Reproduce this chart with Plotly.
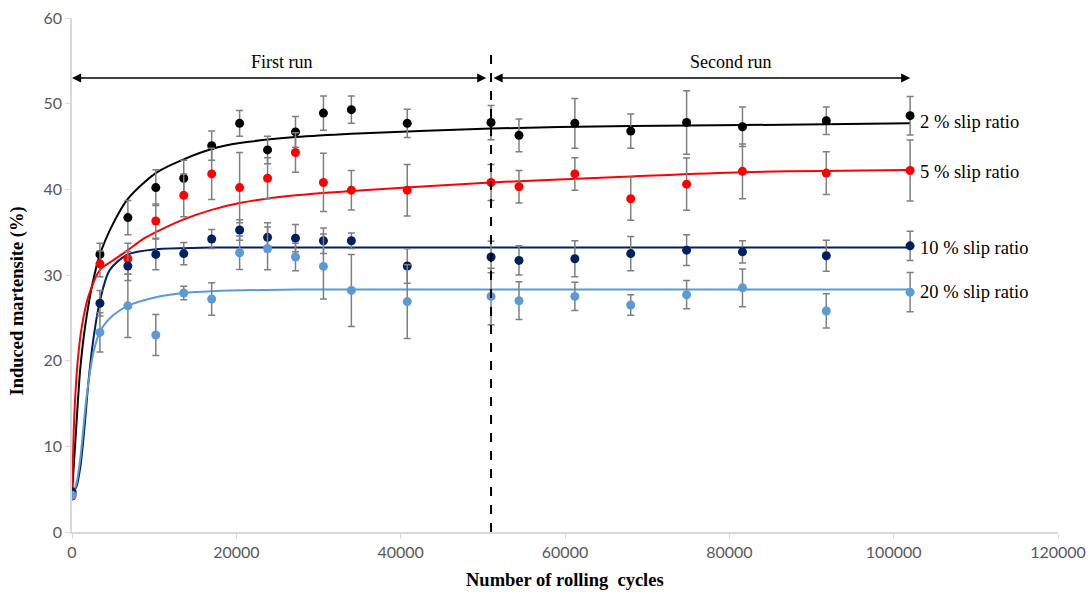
import plotly.graph_objects as go

cycles = [0, 3400, 6800, 10200, 13600, 17000, 20400, 23800, 27200, 30600, 34000,
          40800, 51000, 54400, 61200, 68000, 74800, 81600, 91800, 102000]

slip2 = [4.5, 32.4, 36.7, 40.2, 41.3, 45.1, 47.7, 44.6, 46.7, 48.9, 49.3,
         47.7, 47.8, 46.3, 47.7, 46.8, 47.8, 47.3, 48.0, 48.6]
slip2_err = [0.3, 1.3, 2.0, 2.1, 2.1, 1.7, 1.5, 1.6, 1.8, 2.0, 1.6,
             1.65, 2.0, 1.9, 2.9, 2.0, 3.7, 2.3, 1.6, 2.25]

slip5 = [4.2, 31.3, 31.9, 36.3, 39.3, 41.8, 40.2, 41.3, 44.3, 40.8, 39.9,
         39.9, 40.8, 40.3, 41.8, 38.9, 40.6, 42.1, 41.9, 42.2]
slip5_err = [0.3, 1.5, 1.8, 2.0, 2.5, 3.0, 4.1, 2.4, 2.3, 3.4, 2.3,
             3.0, 2.1, 1.9, 1.9, 2.5, 3.05, 3.2, 2.5, 3.55]

slip10 = [4.7, 26.7, 31.05, 32.4, 32.5, 34.2, 35.25, 34.4, 34.3, 34.0, 34.0,
          31.05, 32.1, 31.7, 31.9, 32.5, 32.9, 32.7, 32.25, 33.4]
slip10_err = [0.3, 1.5, 1.7, 1.8, 1.3, 1.1, 1.2, 1.7, 1.6, 1.5, 0.9,
              2.0, 1.85, 1.7, 2.1, 2.0, 1.8, 1.3, 1.8, 1.7]

slip20 = [4.3, 23.3, 26.4, 23.0, 27.9, 27.2, 32.6, 33.1, 32.1, 31.0, 28.2,
          26.9, 27.5, 27.0, 27.5, 26.5, 27.7, 28.5, 25.8, 28.0]
slip20_err = [0.3, 2.3, 3.7, 2.4, 0.8, 1.9, 1.95, 2.5, 1.6, 3.8, 4.2,
              4.3, 3.3, 2.2, 1.65, 1.2, 1.65, 2.2, 2.0, 2.3]

# ---- fitted trend curves ----
fit2_x = [0, 500, 1000, 1600, 2500, 3400, 5000, 6800, 10200, 13600, 17000, 20400,
          27200, 34000, 51000, 68000, 81600, 102000]
fit2_y = [4.5, 12.0, 19.0, 24.0, 29.0, 32.4, 36.0, 38.9, 41.9, 43.5, 44.7, 45.4,
          46.1, 46.5, 47.1, 47.4, 47.5, 47.7]

fit5_x = [0, 300, 700, 1200, 2000, 3400, 5000, 6800, 8500, 10200, 13600, 17000, 20400,
          27200, 34000, 51000, 68000, 81600, 102000]
fit5_y = [4.2, 14.0, 20.0, 24.0, 27.5, 30.6, 31.7, 32.9, 34.1, 35.0, 36.5, 37.6, 38.4,
          39.3, 39.8, 40.8, 41.5, 42.0, 42.25]

fit10_x = [0, 500, 1000, 1500, 2000, 2600, 3400, 4600, 6800, 10200, 17000, 51000, 102000]
fit10_y = [4.7, 5.2, 7.5, 12.0, 17.5, 22.5, 27.0, 30.6, 32.4, 33.0, 33.2, 33.2, 33.2]

fit20_x = [0, 500, 1000, 1800, 2600, 3400, 5000, 6800, 10200, 13600, 17000, 27200, 51000, 102000]
fit20_y = [4.3, 5.5, 8.5, 16.0, 20.9, 23.4, 25.3, 26.4, 27.4, 27.9, 28.1, 28.3, 28.3, 28.3]

series_names = ["2 % slip ratio", "5 % slip ratio", "10 % slip ratio", "20 % slip ratio"]
series_colors = ["#000000", "#ff0000", "#002060", "#5b9bd5"]
label_y = [47.9, 42.05, 33.1, 28.05]

run_split = 51000
arrow_level = 53.0
xticks = [0, 20000, 40000, 60000, 80000, 100000, 120000]
yticks = [0, 10, 20, 30, 40, 50, 60]

SERIF = "Liberation Serif, Times New Roman, serif"
TICKFONT = dict(family="Lato, sans-serif", size=16, color="#595959")

fig = go.Figure()

fits = [(fit2_x, fit2_y), (fit5_x, fit5_y), (fit10_x, fit10_y), (fit20_x, fit20_y)]
pts = [(slip2, slip2_err), (slip5, slip5_err), (slip10, slip10_err), (slip20, slip20_err)]

for (fx, fy), col in zip(fits, series_colors):
    fig.add_trace(go.Scatter(x=fx, y=fy, mode="lines",
                             line=dict(color=col, width=2, shape="spline", smoothing=0.8),
                             hoverinfo="skip", showlegend=False))

for (vals, errs), col, name in zip(pts, series_colors, series_names):
    fig.add_trace(go.Scatter(x=cycles, y=vals, mode="markers", name=name,
                             marker=dict(color=col, size=9),
                             error_y=dict(type="data", array=errs, visible=True,
                                          color="#7f7f7f", thickness=1.5, width=3.5),
                             showlegend=False))

# dashed separator
fig.add_shape(type="line", x0=run_split, x1=run_split, y0=0, y1=56.6,
              xref="x", yref="y", line=dict(color="black", width=2, dash="dash"))

# double-headed arrows
for x_head, x_tail in [(0, 50600), (51300, 102200)]:
    fig.add_annotation(x=x_head, y=arrow_level, ax=x_tail, ay=arrow_level,
                       xref="x", yref="y", axref="x", ayref="y",
                       showarrow=True, arrowhead=2, startarrowhead=2,
                       arrowside="end+start", arrowsize=1.3, startarrowsize=1.3,
                       arrowwidth=1.4, arrowcolor="black", text="")

fig.add_annotation(x=25600, y=54.9, text="First run", showarrow=False,
                   font=dict(family=SERIF, size=18, color="black"))
fig.add_annotation(x=80100, y=54.9, text="Second run", showarrow=False,
                   font=dict(family=SERIF, size=18, color="black"))

for name, ly in zip(series_names, label_y):
    fig.add_annotation(x=103000, y=ly, text=name, showarrow=False, xanchor="left",
                       font=dict(family=SERIF, size=18.5, color="black"))

# axis titles
fig.add_annotation(x=0.5, y=-0.093, xref="paper", yref="paper", yanchor="middle",
                   text="<b>Number of rolling  cycles</b>", showarrow=False,
                   font=dict(family=SERIF, size=18.5, color="black"))
fig.add_annotation(x=-0.055, y=0.45, xref="paper", yref="paper", textangle=-90,
                   xanchor="center", yanchor="middle",
                   text="<b>Induced martensite (%)</b>", showarrow=False,
                   font=dict(family=SERIF, size=18.5, color="black"))

fig.update_xaxes(range=[0, 120000], tickvals=xticks, tickformat="d", automargin=False,
                 showgrid=False, zeroline=False, showline=True, linecolor="#d9d9d9",
                 linewidth=1.5, ticks="outside", tickcolor="#d9d9d9", ticklen=5,
                 tickfont=TICKFONT)
fig.update_yaxes(range=[0, 60], tickvals=yticks, automargin=False,
                 showgrid=False, zeroline=False, showline=True, linecolor="#d9d9d9",
                 linewidth=1.5, ticks="outside", tickcolor="#d9d9d9", ticklen=5,
                 tickfont=TICKFONT)

fig.update_layout(width=1089, height=592, margin=dict(l=72, r=31, t=18, b=60),
                  plot_bgcolor="white", paper_bgcolor="white", showlegend=False)

fig.write_html("out.html")
